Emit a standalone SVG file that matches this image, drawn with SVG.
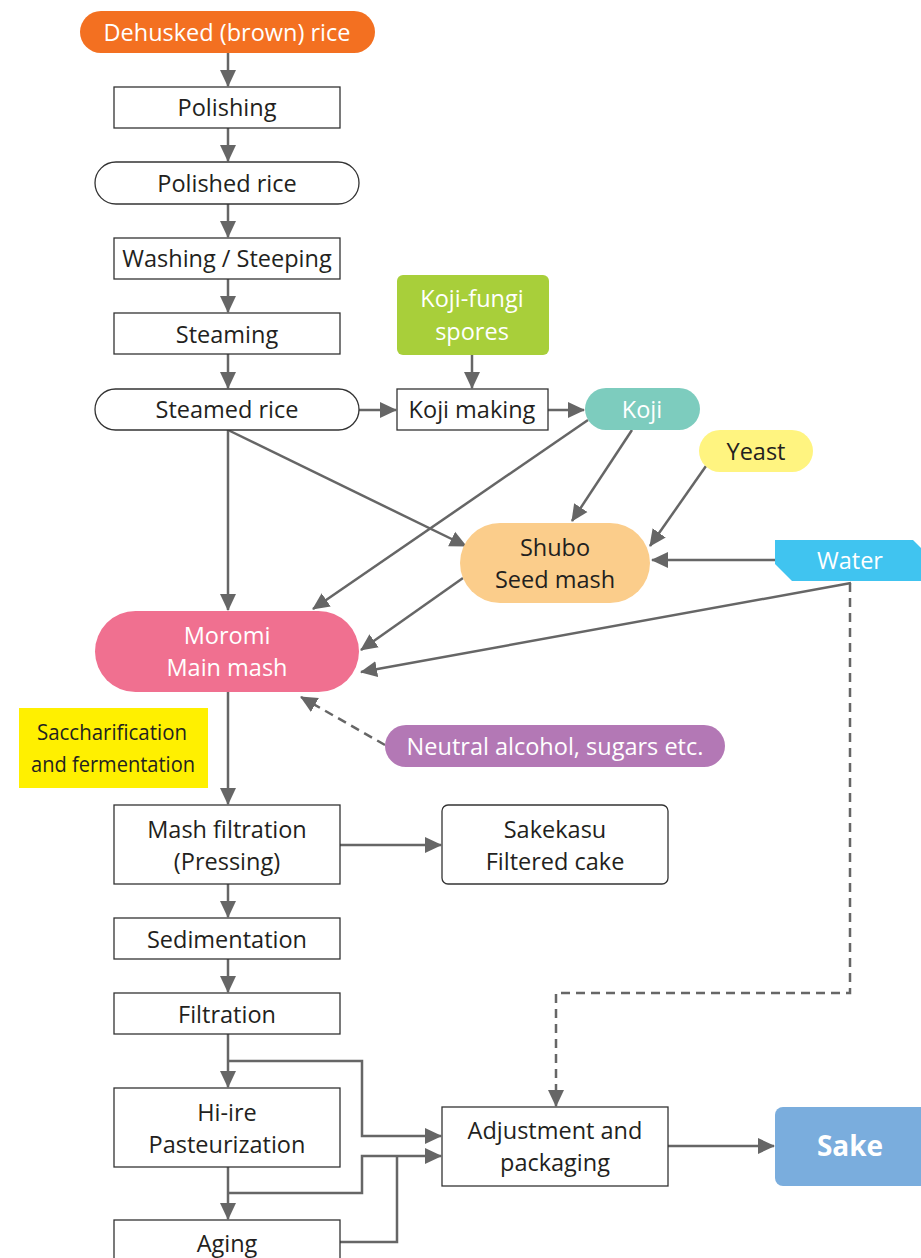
<svg xmlns="http://www.w3.org/2000/svg" width="921" height="1258" viewBox="0 0 921 1258">
<defs>
<style>
text{font-family:"Open Sans","Noto Sans",sans-serif;font-size:23.5px;text-anchor:middle;fill:#231F20}
.w{fill:#fff}
.box{fill:#fff;stroke:#333;stroke-width:1.3}
.c{fill:none;stroke:#666;stroke-width:2.5}
.d{stroke-dasharray:9,6}
</style>
<marker id="a" markerWidth="18" markerHeight="18" refX="16" refY="8" orient="auto" markerUnits="userSpaceOnUse" viewBox="0 0 18 16">
<path d="M0,0 L17,8 L0,16 Z" fill="#666"/>
</marker>
</defs>
<rect width="921" height="1258" fill="#fff"/>

<g id="connectors">
<path class="c" d="M228,53 V86" marker-end="url(#a)"/>
<path class="c" d="M228,128 V161" marker-end="url(#a)"/>
<path class="c" d="M228,204 V237" marker-end="url(#a)"/>
<path class="c" d="M228,279 V312" marker-end="url(#a)"/>
<path class="c" d="M228,354 V388" marker-end="url(#a)"/>
<path class="c" d="M359,410 H396" marker-end="url(#a)"/>
<path class="c" d="M548,410 H584" marker-end="url(#a)"/>
<path class="c" d="M472,355 V388" marker-end="url(#a)"/>
<path class="c" d="M228,430 V610" marker-end="url(#a)"/>
<path class="c" d="M228,430 L466,546" marker-end="url(#a)"/>
<path class="c" d="M588,420 L313,609" marker-end="url(#a)"/>
<path class="c" d="M632,430 L572,521" marker-end="url(#a)"/>
<path class="c" d="M706,466 L650,546" marker-end="url(#a)"/>
<path class="c" d="M775,560 H652" marker-end="url(#a)"/>
<path class="c" d="M463,578 L361,650" marker-end="url(#a)"/>
<path class="c" d="M851,583 L361,672" marker-end="url(#a)"/>
<path class="c d" d="M385,745 L301,697" marker-end="url(#a)"/>
<path class="c" d="M228,692 V804" marker-end="url(#a)"/>
<path class="c" d="M340,845 H441" marker-end="url(#a)"/>
<path class="c" d="M228,884 V917" marker-end="url(#a)"/>
<path class="c" d="M228,959 V992" marker-end="url(#a)"/>
<path class="c" d="M228,1034 V1087" marker-end="url(#a)"/>
<path class="c" d="M228,1061 H362 V1136 H441" marker-end="url(#a)"/>
<path class="c" d="M228,1167 V1219" marker-end="url(#a)"/>
<path class="c" d="M228,1193 H362 V1156 H441" marker-end="url(#a)"/>
<path class="c" d="M340,1242 H397 V1156"/>
<path class="c d" d="M850,583 V993 H556 V1106" marker-end="url(#a)"/>
<path class="c" d="M668,1146 H774" marker-end="url(#a)"/>
</g>

<g id="dehusked"><rect x="80" y="11" width="295" height="42" rx="21" fill="#F37021"/><text class="w" x="227" y="41">Dehusked (brown) rice</text></g>
<g id="polishing"><rect class="box" x="114" y="87" width="226" height="41"/><text x="227" y="116">Polishing</text></g>
<g id="polished"><rect class="box" x="95" y="162" width="264" height="42" rx="21"/><text x="227" y="192">Polished rice</text></g>
<g id="washing"><rect class="box" x="114" y="238" width="226" height="41"/><text x="227" y="267">Washing / Steeping</text></g>
<g id="steaming"><rect class="box" x="114" y="313" width="226" height="41"/><text x="227" y="343">Steaming</text></g>
<g id="steamed"><rect class="box" x="95" y="389" width="264" height="41" rx="20.5"/><text x="227" y="418">Steamed rice</text></g>
<g id="kojimaking"><rect class="box" x="397" y="389" width="151" height="41"/><text x="472" y="418">Koji making</text></g>
<g id="spores"><rect x="397" y="275" width="152" height="80" rx="6" fill="#A8CF3A"/><text class="w" x="472" y="307">Koji-fungi</text><text class="w" x="472" y="340">spores</text></g>
<g id="koji"><rect x="585" y="388" width="115" height="42" rx="21" fill="#7DCCBE"/><text class="w" x="642" y="418">Koji</text></g>
<g id="yeast"><rect x="699" y="430" width="114" height="42" rx="21" fill="#FFF480"/><text x="756" y="460">Yeast</text></g>
<g id="shubo"><rect x="460" y="523" width="190" height="80" rx="40" fill="#FBCD8B"/><text x="555" y="556">Shubo</text><text x="555" y="588">Seed mash</text></g>
<g id="water"><path d="M775,540 H913 L921,548 V581 H792 L775,564 Z" fill="#40C4F0"/><text class="w" x="850" y="569">Water</text></g>
<g id="moromi"><rect x="95" y="611" width="264" height="81" rx="40.5" fill="#F07090"/><text class="w" x="227" y="644">Moromi</text><text class="w" x="227" y="676">Main mash</text></g>
<g id="saccharification"><rect x="19" y="708" width="189" height="80" fill="#FFF000"/><text x="112" y="740" style="font-size:22px" textLength="150" lengthAdjust="spacingAndGlyphs">Saccharification</text><text x="113" y="772" style="font-size:22px" textLength="164" lengthAdjust="spacingAndGlyphs">and fermentation</text></g>
<g id="alcohol"><rect x="385" y="725" width="340" height="42" rx="21" fill="#B378B5"/><text class="w" x="555" y="755">Neutral alcohol, sugars etc.</text></g>
<g id="mashfiltration"><rect class="box" x="114" y="805" width="226" height="79"/><text x="227" y="838">Mash filtration</text><text x="227" y="870">(Pressing)</text></g>
<g id="sakekasu"><rect class="box" x="442" y="805" width="226" height="79" rx="6"/><text x="555" y="838">Sakekasu</text><text x="555" y="870">Filtered cake</text></g>
<g id="sedimentation"><rect class="box" x="114" y="918" width="226" height="41"/><text x="227" y="948">Sedimentation</text></g>
<g id="filtration"><rect class="box" x="114" y="993" width="226" height="41"/><text x="227" y="1023">Filtration</text></g>
<g id="hiire"><rect class="box" x="114" y="1088" width="226" height="79"/><text x="227" y="1121">Hi-ire</text><text x="227" y="1153">Pasteurization</text></g>
<g id="aging"><rect class="box" x="114" y="1220" width="226" height="45"/><text x="227" y="1252">Aging</text></g>
<g id="adjustment"><rect class="box" x="442" y="1107" width="226" height="79"/><text x="555" y="1139">Adjustment and</text><text x="555" y="1171">packaging</text></g>
<g id="sake"><rect x="775" y="1107" width="160" height="79" rx="8" fill="#7AADDD"/><text class="w" x="850" y="1156" style="font-weight:bold;font-size:28px">Sake</text></g>
</svg>
